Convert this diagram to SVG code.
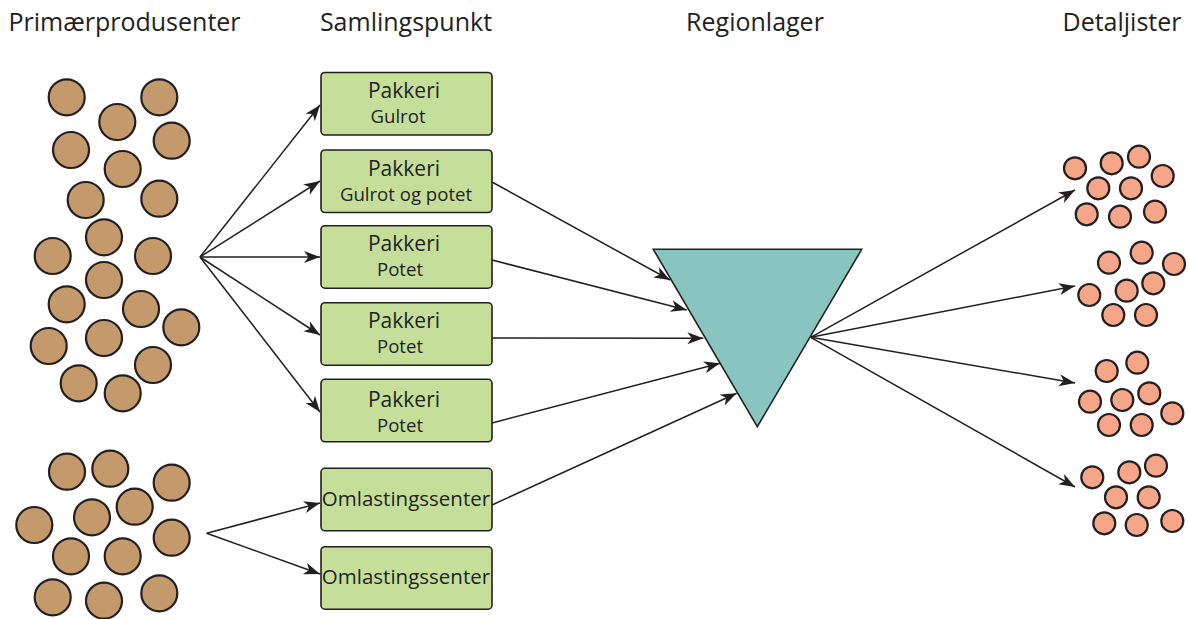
<svg xmlns="http://www.w3.org/2000/svg" width="1188" height="619" viewBox="0 0 1188 619">
  <style>
    .hdr { font-family: "Open Sans", "Noto Sans", sans-serif; font-size: 25px; fill: #231f20; text-anchor: middle; }
    .t1 { font-family: "Open Sans", "Noto Sans", sans-serif; font-size: 21px; fill: #231f20; text-anchor: middle; }
    .t2 { font-family: "Open Sans", "Noto Sans", sans-serif; font-size: 18.6px; fill: #231f20; text-anchor: middle; }
    .t3 { font-family: "Open Sans", "Noto Sans", sans-serif; font-size: 20.5px; fill: #231f20; text-anchor: middle; }
    .box { fill: #c5df9b; stroke: #231f20; stroke-width: 1.6; }
    .prod { fill: #c49a6c; stroke: #231f20; stroke-width: 2.2; }
    .shop { fill: #f5a689; stroke: #231f20; stroke-width: 2.2; }
    .tri { fill: #88c5c0; stroke: #231f20; stroke-width: 1.6; stroke-linejoin: miter; }
    .link { fill: none; stroke: #231f20; stroke-width: 1.5; marker-end: url(#arrow); }
  </style>
  <defs>
    <marker id="arrow" markerUnits="userSpaceOnUse" markerWidth="18" markerHeight="14" refX="16" refY="6" orient="auto">
      <path d="M0,0 L16,6 L0,12 L4.5,6 Z" fill="#231f20"/>
    </marker>
  </defs>

  <!-- column headings -->
  <g id="headings">
    <text class="hdr" x="124.5" y="31">Primærprodusenter</text>
    <text class="hdr" x="406" y="31">Samlingspunkt</text>
    <text class="hdr" x="755" y="31">Regionlager</text>
    <text class="hdr" x="1122" y="31">Detaljister</text>
  </g>

  <!-- primary producers, upper cluster -->
  <g id="producers-upper">
    <circle class="prod" cx="66.7" cy="97.3" r="18"/>
    <circle class="prod" cx="159.3" cy="97.3" r="18"/>
    <circle class="prod" cx="117.3" cy="122" r="18"/>
    <circle class="prod" cx="171.7" cy="140.7" r="18"/>
    <circle class="prod" cx="71" cy="150" r="18"/>
    <circle class="prod" cx="122.7" cy="169" r="18"/>
    <circle class="prod" cx="85.7" cy="200" r="18"/>
    <circle class="prod" cx="159.3" cy="198.7" r="18"/>
    <circle class="prod" cx="104" cy="237.3" r="18"/>
    <circle class="prod" cx="52.7" cy="256" r="18"/>
    <circle class="prod" cx="153" cy="256" r="18"/>
    <circle class="prod" cx="104" cy="280" r="18"/>
    <circle class="prod" cx="66.7" cy="304.3" r="18"/>
    <circle class="prod" cx="141" cy="309" r="18"/>
    <circle class="prod" cx="181.3" cy="327.3" r="18"/>
    <circle class="prod" cx="48.7" cy="346" r="18"/>
    <circle class="prod" cx="104" cy="338" r="18"/>
    <circle class="prod" cx="153" cy="365" r="18"/>
    <circle class="prod" cx="78.7" cy="383.3" r="18"/>
    <circle class="prod" cx="122.7" cy="393.3" r="18"/>
  </g>

  <!-- primary producers, lower cluster -->
  <g id="producers-lower">
    <circle class="prod" cx="67" cy="471.7" r="18"/>
    <circle class="prod" cx="110.3" cy="468.7" r="18"/>
    <circle class="prod" cx="171.7" cy="482.7" r="18"/>
    <circle class="prod" cx="134.7" cy="506.7" r="18"/>
    <circle class="prod" cx="92" cy="517.3" r="18"/>
    <circle class="prod" cx="34.3" cy="525" r="18"/>
    <circle class="prod" cx="171.7" cy="537.7" r="18"/>
    <circle class="prod" cx="71" cy="556.3" r="18"/>
    <circle class="prod" cx="122.7" cy="556.3" r="18"/>
    <circle class="prod" cx="52.7" cy="597.3" r="18"/>
    <circle class="prod" cx="104" cy="600.7" r="18"/>
    <circle class="prod" cx="159.3" cy="593.3" r="18"/>
  </g>

  <!-- collection points -->
  <g id="pakkeri-gulrot">
    <rect class="box" x="321" y="72.5" width="171" height="62.5" rx="4"/>
    <text class="t1" x="404" y="97.5">Pakkeri</text>
    <text class="t2" x="398" y="122.5">Gulrot</text>
  </g>
  <g id="pakkeri-gulrot-potet">
    <rect class="box" x="321" y="150" width="171" height="62.5" rx="4"/>
    <text class="t1" x="404" y="175.5">Pakkeri</text>
    <text class="t2" x="406" y="200.5">Gulrot og potet</text>
  </g>
  <g id="pakkeri-potet-1">
    <rect class="box" x="321" y="225.7" width="171" height="62.5" rx="4"/>
    <text class="t1" x="404" y="251">Pakkeri</text>
    <text class="t2" x="400" y="276">Potet</text>
  </g>
  <g id="pakkeri-potet-2">
    <rect class="box" x="321" y="302.7" width="171" height="62.5" rx="4"/>
    <text class="t1" x="404" y="328.3">Pakkeri</text>
    <text class="t2" x="400" y="353.3">Potet</text>
  </g>
  <g id="pakkeri-potet-3">
    <rect class="box" x="321" y="379.3" width="171" height="62.5" rx="4"/>
    <text class="t1" x="404" y="407">Pakkeri</text>
    <text class="t2" x="400" y="432">Potet</text>
  </g>
  <g id="omlasting-1">
    <rect class="box" x="321" y="468.3" width="171" height="62.5" rx="4"/>
    <text class="t3" x="406" y="505.5">Omlastingssenter</text>
  </g>
  <g id="omlasting-2">
    <rect class="box" x="321" y="546.7" width="171" height="62.5" rx="4"/>
    <text class="t3" x="406" y="583.5">Omlastingssenter</text>
  </g>

  <!-- regional warehouse -->
  <g id="regionlager">
    <polygon class="tri" points="653.3,249.3 861.7,249.3 757.3,426.7"/>
  </g>

  <!-- retailers -->
  <g id="retailers-1">
    <circle class="shop" cx="1075" cy="168.3" r="11"/>
    <circle class="shop" cx="1111.7" cy="163.3" r="11"/>
    <circle class="shop" cx="1139" cy="156.7" r="11"/>
    <circle class="shop" cx="1162.7" cy="176" r="11"/>
    <circle class="shop" cx="1098.3" cy="188.3" r="11"/>
    <circle class="shop" cx="1131" cy="188.3" r="11"/>
    <circle class="shop" cx="1086.7" cy="214.3" r="11"/>
    <circle class="shop" cx="1120" cy="216.7" r="11"/>
    <circle class="shop" cx="1155" cy="211.7" r="11"/>
  </g>
  <g id="retailers-2">
    <circle class="shop" cx="1109" cy="262.7" r="11"/>
    <circle class="shop" cx="1141.7" cy="252.7" r="11"/>
    <circle class="shop" cx="1174" cy="264" r="11"/>
    <circle class="shop" cx="1089.3" cy="295" r="11"/>
    <circle class="shop" cx="1126.7" cy="290.7" r="11"/>
    <circle class="shop" cx="1153.3" cy="283.3" r="11"/>
    <circle class="shop" cx="1113.3" cy="315" r="11"/>
    <circle class="shop" cx="1146" cy="315" r="11"/>
  </g>
  <g id="retailers-3">
    <circle class="shop" cx="1106.7" cy="371" r="11"/>
    <circle class="shop" cx="1137.3" cy="362.7" r="11"/>
    <circle class="shop" cx="1090" cy="401.7" r="11"/>
    <circle class="shop" cx="1122.3" cy="400" r="11"/>
    <circle class="shop" cx="1149.3" cy="393.3" r="11"/>
    <circle class="shop" cx="1172.3" cy="413.3" r="11"/>
    <circle class="shop" cx="1109" cy="425" r="11"/>
    <circle class="shop" cx="1141.7" cy="425" r="11"/>
  </g>
  <g id="retailers-4">
    <circle class="shop" cx="1092.3" cy="477.3" r="11"/>
    <circle class="shop" cx="1129.3" cy="472.3" r="11"/>
    <circle class="shop" cx="1156" cy="465.7" r="11"/>
    <circle class="shop" cx="1116" cy="497.3" r="11"/>
    <circle class="shop" cx="1148.7" cy="497.3" r="11"/>
    <circle class="shop" cx="1104.3" cy="523.3" r="11"/>
    <circle class="shop" cx="1136.7" cy="525" r="11"/>
    <circle class="shop" cx="1172.3" cy="521" r="11"/>
  </g>

  <!-- connectors -->
  <g id="connectors">
    <!-- producers to packing plants -->
    <line class="link" x1="200" y1="257" x2="320" y2="105"/>
    <line class="link" x1="200" y1="257" x2="320" y2="181"/>
    <line class="link" x1="200" y1="257" x2="320" y2="257"/>
    <line class="link" x1="200" y1="257" x2="320" y2="335"/>
    <line class="link" x1="200" y1="257" x2="320" y2="412"/>
    <!-- producers to transshipment centres -->
    <line class="link" x1="206.7" y1="533.3" x2="320" y2="503"/>
    <line class="link" x1="206.7" y1="533.3" x2="320" y2="574"/>
    <!-- collection points to regional warehouse -->
    <line class="link" x1="492" y1="182" x2="670" y2="280"/>
    <line class="link" x1="492" y1="260" x2="686.7" y2="310"/>
    <line class="link" x1="492" y1="338" x2="703.3" y2="338.3"/>
    <line class="link" x1="492" y1="423" x2="720" y2="363.3"/>
    <line class="link" x1="492" y1="505" x2="736.7" y2="393.3"/>
    <!-- regional warehouse to retailers -->
    <line class="link" x1="810.7" y1="337.3" x2="1075" y2="190"/>
    <line class="link" x1="810.7" y1="337.3" x2="1075" y2="286"/>
    <line class="link" x1="810.7" y1="337.3" x2="1075" y2="383"/>
    <line class="link" x1="810.7" y1="337.3" x2="1075" y2="487"/>
  </g>
</svg>
